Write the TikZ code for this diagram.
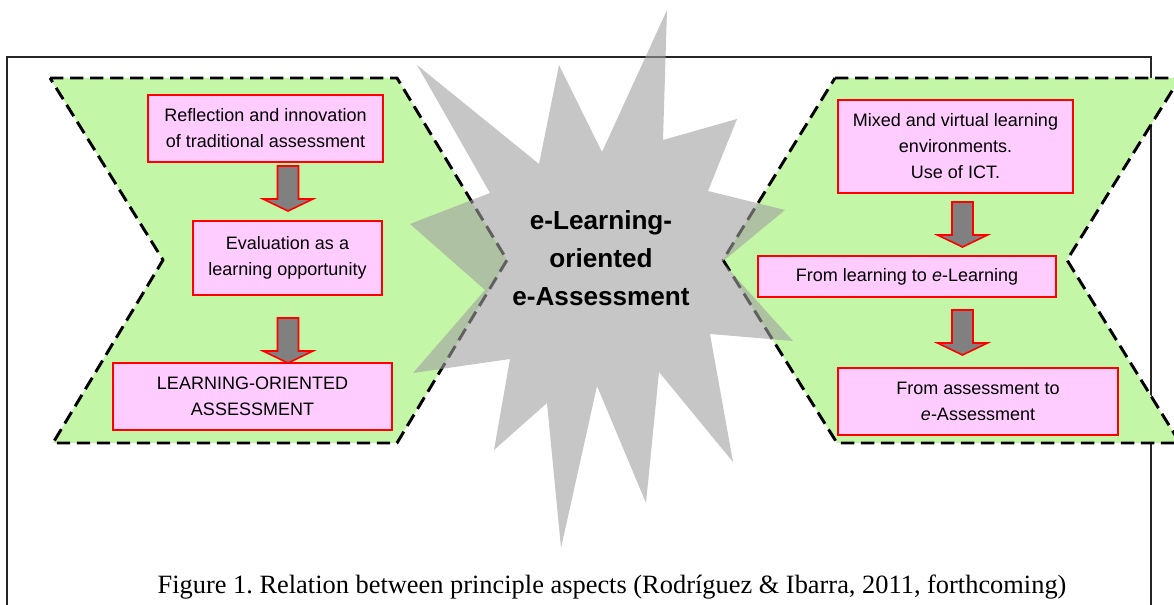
\documentclass[tikz,border=0pt]{standalone}
\usepackage{fontspec}
\setmainfont{Liberation Serif}
\newfontfamily\arialf{Liberation Sans}
\frenchspacing
\usetikzlibrary{calc}
\definecolor{chevgreen}{RGB}{196,246,168}
\definecolor{boxpink}{RGB}{255,204,255}
\definecolor{stargray}{RGB}{160,160,160}
\definecolor{arrgray}{RGB}{128,128,128}
\tikzset{
  chevron/.style={fill=chevgreen, draw=black, line width=2.2pt, dash pattern=on 10pt off 5pt, line join=round},
  starshape/.style={fill=stargray, fill opacity=0.6, draw=none},
  aspect/.style={draw=red, fill=boxpink, line width=1.5pt, font=\arialf\fontsize{13.5}{19.5}\selectfont, align=center, inner sep=0pt},
  flowarrow/.style={draw=red, fill=arrgray, line width=1.2pt, line join=miter},
  frameline/.style={draw=black!85, line width=1.1pt},
  downarrow/.pic={\draw[flowarrow] (-10.5,0) -- (10.5,0) -- (10.5,33) -- (25,33) -- (0,45) -- (-25,33) -- (-10.5,33) -- cycle;}
}
\begin{document}
\begin{tikzpicture}[x=0.75pt,y=-0.75pt]
\useasboundingbox (0,0) rectangle (1174,605);
% frame
\draw[frameline] (7,605) -- (7,57) -- (1151,57) -- (1151,605);
% chevrons
\path[chevron] (50,78) -- (397,78) -- (507,260) -- (397,443) -- (53,443) -- (163,260) -- cycle;
\path[chevron] (835,78) -- (1180,78) -- (1067,260) -- (1180,443) -- (837,443) -- (723,260) -- cycle;
% star
\path[starshape] (667,10) -- (663,140) -- (737,119) -- (708,191) -- (785,210) -- (722,262)
  -- (793,341) -- (710,334) -- (733,462) -- (659,372) -- (646,503) -- (597,386)
  -- (561,548) -- (547,403) -- (494,450) -- (510,359) -- (413,373) -- (485,290)
  -- (410,224) -- (490,193) -- (417,65) -- (539,164) -- (559,65) -- (602,152) -- cycle;
\node[font=\arialf\bfseries\fontsize{19.6}{28.5}\selectfont, align=center, inner sep=0pt] (core) at (601,258)
  {e-Learning-\\oriented\\e-Assessment};
% left boxes
\node[aspect, minimum width=176.25pt, minimum height=50.25pt] (b1) at (265.5,128.5)
  {Reflection and innovation\\of traditional assessment};
\node[aspect, minimum width=141.75pt, minimum height=55.5pt] (b2) at (287.5,258)
  {Evaluation as a\\learning opportunity};
\node[aspect, minimum width=209.25pt, minimum height=50.25pt] (b3) at (252.5,396.5)
  {LEARNING-ORIENTED\\ASSESSMENT};
% right boxes
\node[aspect, minimum width=176.25pt, minimum height=69.75pt] (b4) at (955.5,146.5)
  {Mixed and virtual learning\\environments.\\Use of ICT.};
\node[aspect, minimum width=223.5pt, minimum height=30.75pt] (b5) at (907,276.5)
  {From learning to \textit{e}-Learning};
\node[aspect, minimum width=210pt, minimum height=50.25pt] (b6) at (978,401.5)
  {From assessment to\\\textit{e}-Assessment};
% block arrows
\pic at (288,166) {downarrow};
\pic at (288,318) {downarrow};
\pic at (962.5,202) {downarrow};
\pic at (962.5,310) {downarrow};
% caption
\node[font=\fontsize{19.8}{24}\selectfont, anchor=base, inner sep=0pt] (cap) at (612,593)
  {Figure 1. Relation between principle aspects (Rodríguez \& Ibarra, 2011, forthcoming)};
\end{tikzpicture}
\end{document}
